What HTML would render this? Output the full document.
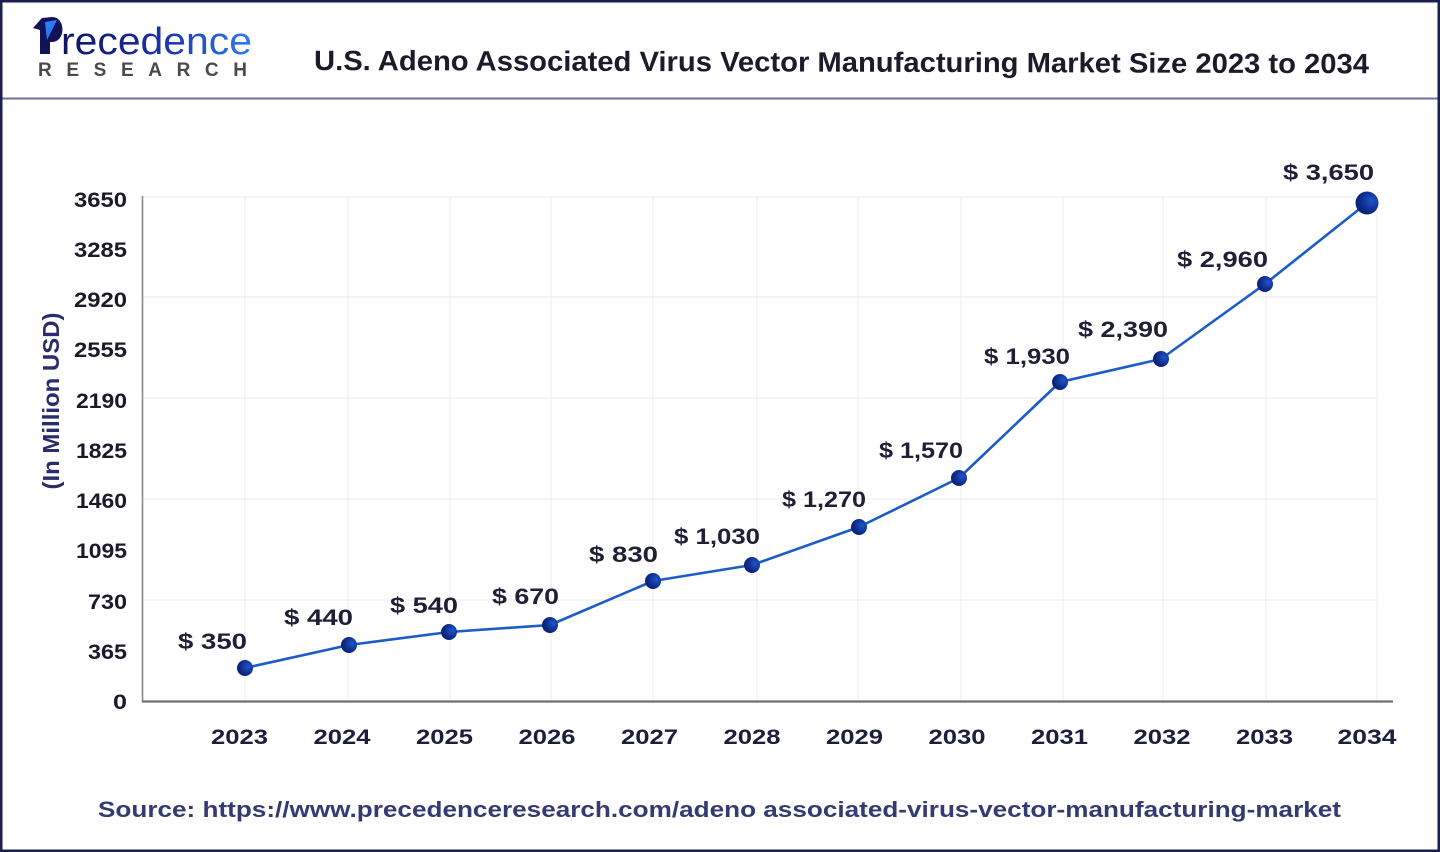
<!DOCTYPE html>
<html>
<head>
<meta charset="utf-8">
<style>
  html,body{margin:0;padding:0;background:#fff;}
  body{width:1440px;height:852px;overflow:hidden;}
  svg{display:block;}
  text{font-family:"Liberation Sans", Arial, sans-serif;}
</style>
</head>
<body>
<svg width="1440" height="852" viewBox="0 0 1440 852" xmlns="http://www.w3.org/2000/svg">
  <defs>
    <linearGradient id="logoGrad" x1="0" y1="0" x2="1" y2="0">
      <stop offset="0" stop-color="#0f1460"/>
      <stop offset="0.5" stop-color="#1a2fa8"/>
      <stop offset="1" stop-color="#2f7bf0"/>
    </linearGradient>
    <radialGradient id="mk" cx="0.7" cy="0.4" r="0.8">
      <stop offset="0" stop-color="#1f55c8"/>
      <stop offset="0.6" stop-color="#0e2a8a"/>
      <stop offset="1" stop-color="#0a1a66"/>
    </radialGradient>
  </defs>

  <rect x="0" y="0" width="1440" height="852" fill="#ffffff"/>

  <!-- Logo P -->
  <path d="M33,28 L42,18 L52,17 C66,17 66,42 52,42 L50,42 L50,54 L40,54 L40,30 Z" fill="#10125a"/>
  <path d="M45,22 L57,20 L47,40 Z" fill="#2a7cf5"/>
  <text x="61" y="54" font-size="38" fill="url(#logoGrad)" textLength="191" lengthAdjust="spacingAndGlyphs">recedence</text>
  <text x="38" y="76" font-size="19" font-weight="bold" fill="#4a4a4e" textLength="209" lengthAdjust="spacing">RESEARCH</text>

  <g transform="rotate(0.18 314 70)">
    <text x="314" y="70" font-size="28" font-weight="bold" fill="#1b1b2a" textLength="1055" lengthAdjust="spacingAndGlyphs">U.S. Adeno Associated Virus Vector Manufacturing Market Size 2023 to 2034</text>
  </g>

  <line x1="0" y1="98.5" x2="1440" y2="98.5" stroke="#6f6f98" stroke-width="2"/>

  <!-- Gridlines -->
  <g stroke="#efefef" stroke-width="1.2">
    <line x1="143" y1="197" x2="1378" y2="197"/>
    <line x1="143" y1="297" x2="1378" y2="297"/>
    <line x1="143" y1="398" x2="1378" y2="398"/>
    <line x1="143" y1="499" x2="1378" y2="499"/>
    <line x1="143" y1="600" x2="1378" y2="600"/>
    <line x1="245" y1="197" x2="245" y2="701"/>
    <line x1="348" y1="197" x2="348" y2="701"/>
    <line x1="450" y1="197" x2="450" y2="701"/>
    <line x1="551" y1="197" x2="551" y2="701"/>
    <line x1="653" y1="197" x2="653" y2="701"/>
    <line x1="757" y1="197" x2="757" y2="701"/>
    <line x1="858" y1="197" x2="858" y2="701"/>
    <line x1="961" y1="197" x2="961" y2="701"/>
    <line x1="1063" y1="197" x2="1063" y2="701"/>
    <line x1="1163" y1="197" x2="1163" y2="701"/>
    <line x1="1266" y1="197" x2="1266" y2="701"/>
    <line x1="1377" y1="197" x2="1377" y2="701"/>
  </g>

  <!-- Axes -->
  <line x1="142.5" y1="196" x2="142.5" y2="702" stroke="#8a8a8a" stroke-width="1.6"/>
  <line x1="142" y1="701.5" x2="1393" y2="701.5" stroke="#707070" stroke-width="2.2"/>

  <!-- Y tick labels -->
  <g font-size="21" font-weight="bold" fill="#1a1a28" text-anchor="end">
    <text x="127" y="207" textLength="53" lengthAdjust="spacingAndGlyphs">3650</text>
    <text x="127" y="257" textLength="53" lengthAdjust="spacingAndGlyphs">3285</text>
    <text x="127" y="307" textLength="53" lengthAdjust="spacingAndGlyphs">2920</text>
    <text x="127" y="357" textLength="53" lengthAdjust="spacingAndGlyphs">2555</text>
    <text x="127" y="408" textLength="51" lengthAdjust="spacingAndGlyphs">2190</text>
    <text x="127" y="458" textLength="51" lengthAdjust="spacingAndGlyphs">1825</text>
    <text x="127" y="508" textLength="51" lengthAdjust="spacingAndGlyphs">1460</text>
    <text x="127" y="558" textLength="51" lengthAdjust="spacingAndGlyphs">1095</text>
    <text x="127" y="609" textLength="39" lengthAdjust="spacingAndGlyphs">730</text>
    <text x="127" y="659" textLength="39" lengthAdjust="spacingAndGlyphs">365</text>
    <text x="127" y="709" textLength="14" lengthAdjust="spacingAndGlyphs">0</text>
  </g>

  <!-- Y axis title -->
  <text transform="translate(59 401) rotate(-90)" text-anchor="middle" font-size="23" font-weight="bold" fill="#2b2d6b" textLength="177" lengthAdjust="spacingAndGlyphs">(In Million USD)</text>

  <!-- X labels -->
  <g font-size="21.5" font-weight="bold" fill="#1c1e3c" text-anchor="middle">
    <text x="239.5" y="744" textLength="57" lengthAdjust="spacingAndGlyphs">2023</text>
    <text x="342" y="744" textLength="57" lengthAdjust="spacingAndGlyphs">2024</text>
    <text x="444.5" y="744" textLength="57" lengthAdjust="spacingAndGlyphs">2025</text>
    <text x="547" y="744" textLength="57" lengthAdjust="spacingAndGlyphs">2026</text>
    <text x="649.5" y="744" textLength="57" lengthAdjust="spacingAndGlyphs">2027</text>
    <text x="752" y="744" textLength="57" lengthAdjust="spacingAndGlyphs">2028</text>
    <text x="854.5" y="744" textLength="57" lengthAdjust="spacingAndGlyphs">2029</text>
    <text x="957" y="744" textLength="57" lengthAdjust="spacingAndGlyphs">2030</text>
    <text x="1059.5" y="744" textLength="57" lengthAdjust="spacingAndGlyphs">2031</text>
    <text x="1162" y="744" textLength="57" lengthAdjust="spacingAndGlyphs">2032</text>
    <text x="1264.5" y="744" textLength="57" lengthAdjust="spacingAndGlyphs">2033</text>
    <text x="1367" y="744" textLength="59" lengthAdjust="spacingAndGlyphs">2034</text>
  </g>

  <!-- Series line -->
  <polyline fill="none" stroke="#1a5cc8" stroke-width="2.6" stroke-linejoin="round"
    points="245,668 349,645 449,632 550,625 653,581 752,565 859,527 959,478 1060,382 1161,359 1265,284 1367,203"/>

  <!-- Markers -->
  <g fill="url(#mk)">
    <circle cx="245" cy="668" r="8"/>
    <circle cx="349" cy="645" r="8"/>
    <circle cx="449" cy="632" r="8"/>
    <circle cx="550" cy="625" r="8"/>
    <circle cx="653" cy="581" r="8"/>
    <circle cx="752" cy="565" r="8"/>
    <circle cx="859" cy="527" r="8"/>
    <circle cx="959" cy="478" r="8"/>
    <circle cx="1060" cy="382" r="8"/>
    <circle cx="1161" cy="359" r="8"/>
    <circle cx="1265" cy="284" r="8"/>
    <circle cx="1367" cy="203" r="11.5"/>
  </g>

  <!-- Data labels -->
  <g font-size="22" font-weight="bold" fill="#1f1f35">
    <text x="178" y="649" textLength="69" lengthAdjust="spacingAndGlyphs">$ 350</text>
    <text x="284" y="625" textLength="69" lengthAdjust="spacingAndGlyphs">$ 440</text>
    <text x="390" y="613" textLength="68" lengthAdjust="spacingAndGlyphs">$ 540</text>
    <text x="492" y="604" textLength="67" lengthAdjust="spacingAndGlyphs">$ 670</text>
    <text x="589" y="562" textLength="69" lengthAdjust="spacingAndGlyphs">$ 830</text>
    <text x="674" y="544" textLength="86" lengthAdjust="spacingAndGlyphs">$ 1,030</text>
    <text x="782" y="507" textLength="84" lengthAdjust="spacingAndGlyphs">$ 1,270</text>
    <text x="879" y="458" textLength="84" lengthAdjust="spacingAndGlyphs">$ 1,570</text>
    <text x="984" y="364" textLength="86" lengthAdjust="spacingAndGlyphs">$ 1,930</text>
    <text x="1078" y="337" textLength="90" lengthAdjust="spacingAndGlyphs">$ 2,390</text>
    <text x="1177" y="267" textLength="91" lengthAdjust="spacingAndGlyphs">$ 2,960</text>
    <text x="1283" y="180" textLength="91" lengthAdjust="spacingAndGlyphs">$ 3,650</text>
  </g>

  <!-- Source -->
  <text x="98" y="817" font-size="22" font-weight="bold" fill="#343a72" textLength="1243" lengthAdjust="spacingAndGlyphs">Source: https://www.precedenceresearch.com/adeno associated-virus-vector-manufacturing-market</text>

  <!-- Outer frame -->
  <rect x="1.25" y="1.25" width="1437.5" height="849.5" fill="none" stroke="#1d1f4e" stroke-width="2.5"/>
</svg>
</body>
</html>
